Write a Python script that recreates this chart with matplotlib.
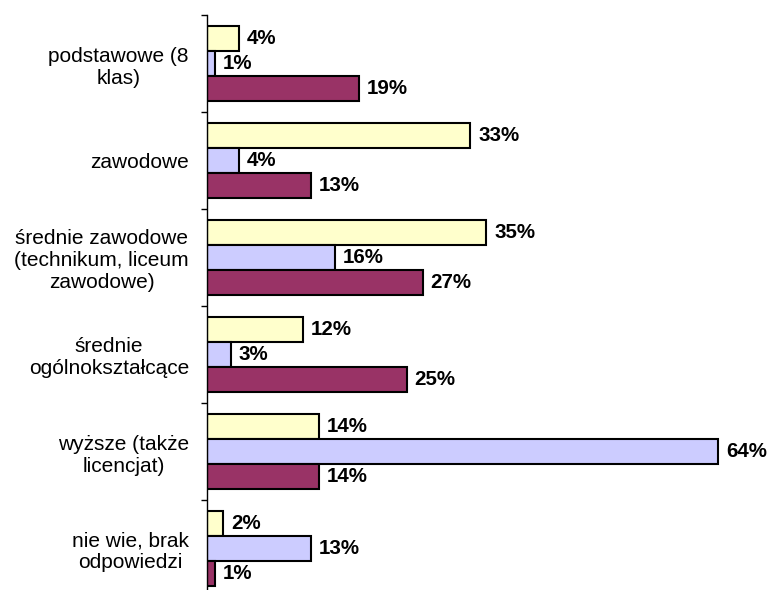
import matplotlib
matplotlib.use("Agg")
import matplotlib.pyplot as plt
import numpy as np

plt.rcParams['font.family'] = ['Liberation Sans', 'DejaVu Sans']

categories = ["podstawowe (8\nklas)", "zawodowe",
              "średnie zawodowe\n(technikum, liceum\nzawodowe)",
              "średnie\nogólnokształcące", "wyższe (także\nlicencjat)",
              "nie wie, brak\nodpowiedzi"]
series_a = [4, 33, 35, 12, 14, 2]
series_b = [1, 4, 16, 3, 64, 13]
series_c = [19, 13, 27, 25, 14, 1]
colors = ["#FFFFCC", "#CCCCFF", "#993366"]

fig = plt.figure(figsize=(7.7, 5.9), dpi=100)
W, H = 770, 590
left_px, top_px, step = 207, 15, 97
n = len(categories)
ax = fig.add_axes([left_px / W, 1 - (top_px + n * step) / H,
                   (W - left_px) / W, n * step / H])

y = np.arange(n) + 0.5
bh = 0.258
for vals, col, off in zip([series_a, series_b, series_c], colors, [-bh, 0, bh]):
    bars = ax.barh(y + off, vals, height=bh, color=col, edgecolor="black",
                   linewidth=1.5)
    for b, v in zip(bars, vals):
        ax.annotate(f"{v}%", (b.get_width(), b.get_y() + b.get_height() / 2),
                    xytext=(8, 0), textcoords="offset pixels",
                    ha="left", va="center", fontsize=14.8, fontweight="bold")

ax.set_xlim(0, (W - left_px) / 7.984)
ax.set_ylim(n, 0)
for s in ["top", "right", "bottom"]:
    ax.spines[s].set_visible(False)
ax.spines["left"].set_linewidth(1.0)
ax.set_xticks([])
ax.set_yticks(np.arange(n + 1))
ax.set_yticklabels([])
ax.tick_params(axis="y", which="major", length=4.5, width=1.0, direction="out")
ax.set_yticks(y, minor=True)
ax.set_yticklabels(categories, minor=True, fontsize=15, multialignment="center")
ax.tick_params(axis="y", which="minor", length=0, pad=13)

fig.savefig("out.png", dpi=100)
